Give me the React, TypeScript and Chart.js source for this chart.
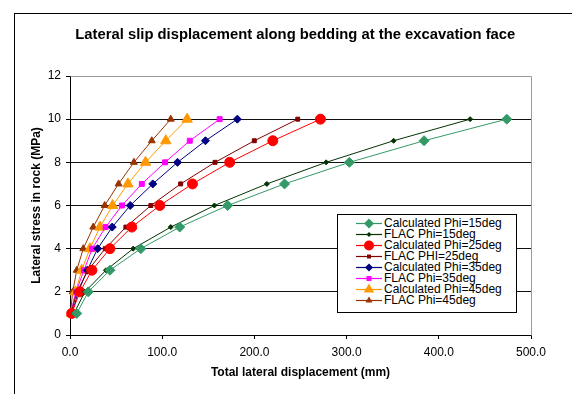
import React, { useEffect, useRef } from 'react';
import { Chart, registerables } from 'chart.js';
Chart.register(...registerables);

// Lateral stress levels (MPa)
const stressLevels = [1, 2, 3, 4, 5, 6, 7, 8, 9, 10];
// Total lateral displacement (mm) for each stress level
const calcPhi15 = [7.3, 19.8, 43.3, 76.8, 119, 171, 232.7, 303, 384, 473.7];
const flacPhi15 = [4.3, 16.2, 39, 68.5, 109.3, 156.6, 213.5, 277.8, 351, 434];
const calcPhi25 = [1.8, 10.8, 23.8, 43.3, 67, 97.4, 132.8, 173.2, 220, 271.6];
const flacPhi25 = [1.1, 7.6, 19.5, 38.2, 60.6, 87.7, 120, 157.3, 199.9, 247];
const calcPhi35 = [2.2, 9, 18.7, 30, 45.8, 65.3, 89.8, 116.6, 146.9, 181.5];
const flacPhi35 = [0.5, 6.5, 15.2, 24.1, 38.6, 56.3, 77.9, 103.1, 129.9, 162.3];
const calcPhi45 = [1.6, 6, 12.7, 21.6, 32.5, 46.2, 62.8, 81.9, 103.9, 127];
const flacPhi45 = [0.5, 2.9, 7.3, 14.4, 25.2, 37.6, 52.7, 69.3, 88.7, 109.3];

const seriesLabels = [
  'Calculated Phi=15deg',
  'FLAC Phi=15deg',
  'Calculated Phi=25deg',
  'FLAC PHI=25deg',
  'Calculated Phi=35deg',
  'FLAC Phi=35deg',
  'Calculated Phi=45deg',
  'FLAC Phi=45deg',
];
const seriesData = [calcPhi15, flacPhi15, calcPhi25, flacPhi25, calcPhi35, flacPhi35, calcPhi45, flacPhi45];

const chartTitle = 'Lateral slip displacement along bedding at the excavation face';
const xTitle = 'Total lateral displacement (mm)';
const yTitle = 'Lateral stress in rock (MPa)';

// styles
const seriesStyles = [
  { color: '#339966', shape: 'rectRot', r: 5 },
  { color: '#003300', shape: 'rectRot', r: 2.5 },
  { color: '#FF0000', shape: 'circle', r: 5 },
  { color: '#800000', shape: 'rect', r: 2.8 },
  { color: '#000080', shape: 'rectRot', r: 4 },
  { color: '#FF00FF', shape: 'rect', r: 3.5 },
  { color: '#FF9900', shape: 'triangle', r: 6 },
  { color: '#993300', shape: 'triangle', r: 4 },
];

const FONT = "'Liberation Sans', Arial, sans-serif";

function Marker({ shape, r, color }: { shape: string; r: number; color: string }) {
  const cx = 13;
  const cy = 5.5;
  if (shape === 'circle') return <circle cx={cx} cy={cy} r={r} fill={color} />;
  if (shape === 'rect') {
    const s = Math.SQRT1_2 * r;
    return <rect x={cx - s} y={cy - s} width={2 * s} height={2 * s} fill={color} />;
  }
  if (shape === 'rectRot') {
    return <polygon points={`${cx},${cy - r} ${cx + r},${cy} ${cx},${cy + r} ${cx - r},${cy}`} fill={color} />;
  }
  return (
    <polygon
      points={`${cx},${cy - r} ${cx + 0.866 * r},${cy + 0.5 * r} ${cx - 0.866 * r},${cy + 0.5 * r}`}
      fill={color}
    />
  );
}

export default function App() {
  const ref = useRef<HTMLCanvasElement>(null);

  useEffect(() => {
    const plotFrame = {
      id: 'plotFrame',
      beforeDatasetsDraw(chart: any) {
        const { ctx, chartArea: a } = chart;
        ctx.save();
        ctx.strokeStyle = '#9a9a9a';
        ctx.lineWidth = 1;
        ctx.beginPath();
        ctx.moveTo(Math.round(a.left) + 0.5, Math.round(a.top) + 0.5);
        ctx.lineTo(Math.round(a.right) + 0.5, Math.round(a.top) + 0.5);
        ctx.lineTo(Math.round(a.right) + 0.5, Math.round(a.bottom) + 0.5);
        ctx.stroke();
        ctx.restore();
      },
    };

    const chart = new Chart(ref.current as HTMLCanvasElement, {
      type: 'line',
      data: {
        datasets: seriesData.map((d, i) => ({
          label: seriesLabels[i],
          data: d.map((x, j) => ({ x, y: stressLevels[j] })),
          borderColor: seriesStyles[i].color,
          backgroundColor: seriesStyles[i].color,
          pointStyle: seriesStyles[i].shape as any,
          pointRadius: seriesStyles[i].r,
          pointBorderWidth: 1,
          borderWidth: 1,
          tension: 0,
          fill: false,
          clip: false as any,
        })),
      },
      options: {
        responsive: false,
        animation: false,
        devicePixelRatio: 1,
        layout: { padding: { left: 0, right: 41, top: 76, bottom: 0 } },
        plugins: {
          legend: { display: false },
          title: { display: false },
          tooltip: { enabled: false },
        },
        scales: {
          x: {
            type: 'linear',
            min: 0,
            max: 500,
            afterFit: (s: any) => {
              s.height = 59;
            },
            ticks: {
              stepSize: 100,
              callback: (v: any) => Number(v).toFixed(1),
              color: '#000',
              font: { family: FONT, size: 12 },
              padding: 6,
              maxRotation: 0,
            },
            grid: { drawOnChartArea: false, drawTicks: true, tickLength: 4, color: '#000' },
            border: { color: '#000', width: 1 },
            title: {
              display: true,
              text: xTitle,
              color: '#000',
              font: { family: FONT, size: 12, weight: 'bold' },
              padding: { top: 0, bottom: 13.8 },
            },
          },
          y: {
            type: 'linear',
            min: 0,
            max: 12,
            afterFit: (s: any) => {
              s.width = 70;
            },
            ticks: {
              stepSize: 2,
              color: '#000',
              font: { family: FONT, size: 12 },
              padding: 5,
            },
            grid: {
              color: (c: any) => (c.tick && c.tick.value === 12 ? '#9a9a9a' : '#111'),
              tickColor: '#000',
              tickLength: 4,
              drawTicks: true,
            },
            border: { color: '#000', width: 1 },
            title: {
              display: true,
              text: yTitle,
              color: '#000',
              font: { family: FONT, size: 12, weight: 'bold' },
              padding: { top: 29.5, bottom: 0 },
            },
          },
        },
      },
      plugins: [plotFrame],
    } as any);
    return () => chart.destroy();
  }, []);

  return (
    <div
      style={{
        position: 'absolute',
        left: 0,
        top: 0,
        width: 572,
        height: 394,
        overflow: 'hidden',
        background: '#fff',
        fontFamily: FONT,
      }}
    >
      <div
        style={{
          position: 'absolute',
          left: 14,
          top: 13,
          width: 700,
          height: 500,
          border: '1px solid #000',
        }}
      />
      <canvas ref={ref} width={572} height={394} style={{ position: 'absolute', left: 0, top: 0, width: 572, height: 394 }} />
      <div
        style={{
          position: 'absolute',
          left: 0,
          top: 25.6,
          width: 590.6,
          textAlign: 'center',
          whiteSpace: 'nowrap',
          fontWeight: 'bold',
          fontSize: 14.8,
          lineHeight: '17px',
          color: '#000',
        }}
      >
        {chartTitle}
      </div>
      <div
        style={{
          position: 'absolute',
          left: 337,
          top: 214,
          width: 178,
          height: 94,
          border: '1px solid #000',
          background: '#fff',
          paddingTop: 3,
          boxSizing: 'content-box',
        }}
      >
        {seriesLabels.map((lab, i) => (
          <div
            key={lab}
            style={{
              display: 'flex',
              alignItems: 'center',
              height: 11,
              lineHeight: '11px',
              fontSize: 12,
              color: '#000',
              whiteSpace: 'nowrap',
            }}
          >
            <svg width={26} height={11} style={{ marginLeft: 18, marginRight: 2, overflow: 'visible', flex: 'none' }}>
              <line x1={0} y1={5.5} x2={26} y2={5.5} stroke={seriesStyles[i].color} strokeWidth={1.2} />
              <Marker shape={seriesStyles[i].shape} r={seriesStyles[i].r} color={seriesStyles[i].color} />
            </svg>
            <span>{lab}</span>
          </div>
        ))}
      </div>
    </div>
  );
}
